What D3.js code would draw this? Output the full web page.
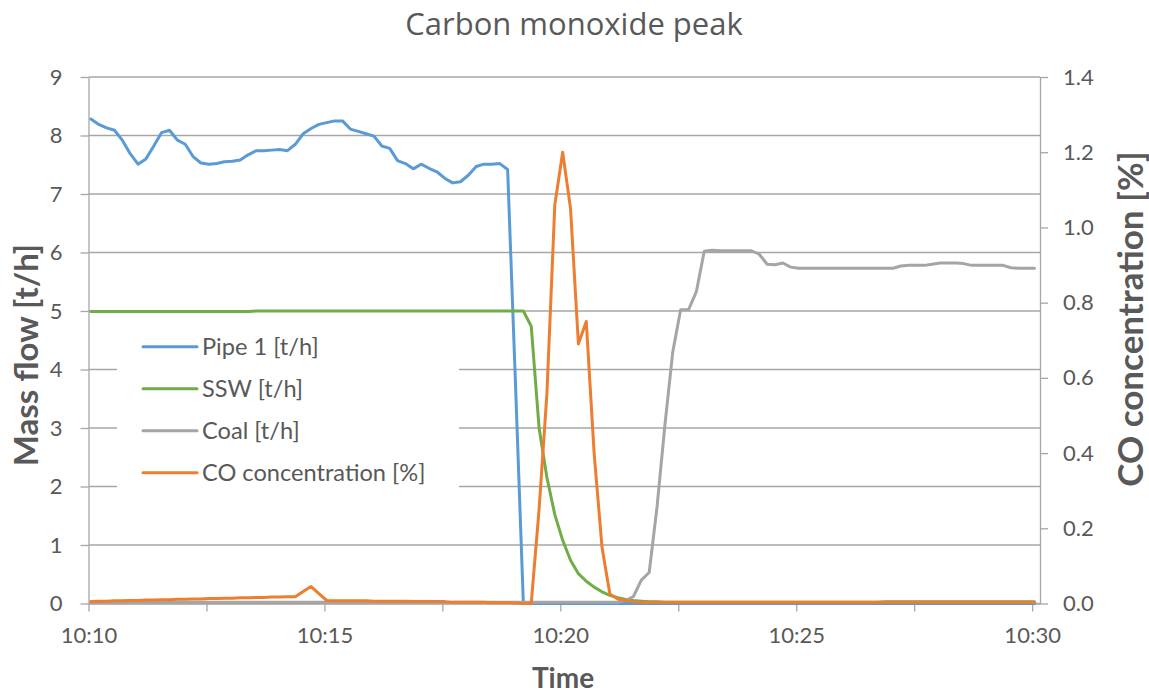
<!DOCTYPE html>
<html><head><meta charset="utf-8">
<script src="https://cdn.jsdelivr.net/npm/d3@7/dist/d3.min.js"></script>
<style>
body{margin:0;background:#fff}
svg{display:block;font-family:Lato,"Open Sans",sans-serif}
</style>
</head><body>
<svg id="chart" width="1149" height="695"></svg>
<script>
// ---------- data ----------
const startTime = "2000-01-01T10:10:03";
const stepSeconds = 10;
const seriesNames = ["Pipe 1 [t/h]", "SSW [t/h]", "Coal [t/h]", "CO concentration [%]"];
const pipe1 = [
 8.28,8.19,8.13,8.09,7.92,7.69,7.51,7.60,7.82,8.05,
 8.09,7.92,7.85,7.64,7.53,7.51,7.52,7.55,7.56,7.58,
 7.67,7.74,7.74,7.75,7.76,7.74,7.85,8.03,8.12,8.19,
 8.22,8.25,8.25,8.11,8.07,8.03,7.99,7.82,7.78,7.57,
 7.52,7.43,7.51,7.44,7.38,7.27,7.19,7.21,7.32,7.47,
 7.51,7.51,7.52,7.42,3.75,0,0,0,0,0,
 0,0,0,0,0,0,0,0,0,0,
 0,0,0,0,0,0,0,0,0,0,
 0,0,0,0,0,0,0,0,0,0,
 0,0,0,0,0,0,0,0,0,0,
 0,0,0,0,0,0,0,0,0,0,
 0,0,0,0,0,0,0,0,0,0,
 0];
const ssw = [
 4.99,4.99,4.99,4.99,4.99,4.99,4.99,4.99,4.99,4.99,
 4.99,4.99,4.99,4.99,4.99,4.99,4.99,4.99,4.99,4.99,
 4.99,5.00,5.00,5.00,5.00,5.00,5.00,5.00,5.00,5.00,
 5.00,5.00,5.00,5.00,5.00,5.00,5.00,5.00,5.00,5.00,
 5.00,5.00,5.00,5.00,5.00,5.00,5.00,5.00,5.00,5.00,
 5.00,5.00,5.00,5.00,5.00,5.00,4.74,3.00,2.15,1.52,
 1.08,0.74,0.51,0.38,0.28,0.20,0.14,0.10,0.07,0.05,
 0.04,0.03,0.03,0.02,0.02,0.02,0.02,0.02,0.02,0.02,
 0.02,0.02,0.02,0.02,0.02,0.02,0.02,0.02,0.02,0.02,
 0.02,0.02,0.02,0.02,0.02,0.02,0.02,0.02,0.02,0.02,
 0.02,0.03,0.03,0.03,0.03,0.03,0.03,0.03,0.03,0.03,
 0.03,0.03,0.03,0.03,0.03,0.03,0.03,0.03,0.03,0.03,
 0.03];
const coal = [
 0.02,0.02,0.02,0.02,0.02,0.02,0.02,0.02,0.02,0.02,
 0.02,0.02,0.02,0.02,0.02,0.02,0.02,0.02,0.02,0.02,
 0.02,0.02,0.02,0.02,0.02,0.02,0.02,0.02,0.02,0.02,
 0.02,0.02,0.02,0.02,0.02,0.02,0.02,0.02,0.02,0.02,
 0.02,0.02,0.02,0.02,0.02,0.02,0.02,0.02,0.02,0.02,
 0.02,0.02,0.02,0.02,0.02,0.02,0.02,0.02,0.02,0.02,
 0.02,0.02,0.02,0.02,0.02,0.02,0.02,0.02,0.05,0.12,
 0.40,0.53,1.65,3.05,4.30,5.02,5.02,5.33,6.02,6.04,
 6.03,6.03,6.03,6.03,6.03,5.97,5.80,5.79,5.82,5.75,
 5.73,5.73,5.73,5.73,5.73,5.73,5.73,5.73,5.73,5.73,
 5.73,5.73,5.73,5.77,5.78,5.78,5.78,5.80,5.82,5.82,
 5.82,5.81,5.78,5.78,5.78,5.78,5.78,5.74,5.73,5.73,
 5.73];
const co = [
 0.005,0.006,0.006,0.007,0.007,0.008,0.008,0.009,0.009,0.010,
 0.010,0.011,0.011,0.012,0.012,0.013,0.013,0.014,0.014,0.015,
 0.015,0.016,0.016,0.017,0.017,0.018,0.018,0.032,0.045,0.026,
 0.008,0.007,0.007,0.007,0.007,0.007,0.006,0.006,0.006,0.006,
 0.006,0.005,0.005,0.005,0.005,0.005,0.003,0.003,0.003,0.003,
 0.003,0.002,0.002,0.002,0.001,0,0,0.25,0.56,1.06,
 1.20,1.05,0.69,0.75,0.40,0.15,0.025,0.012,0.008,0.005,
 0.003,0.003,0.003,0.003,0.003,0.003,0.003,0.003,0.003,0.003,
 0.003,0.003,0.003,0.003,0.003,0.003,0.003,0.003,0.003,0.003,
 0.003,0.003,0.003,0.003,0.003,0.003,0.003,0.003,0.003,0.003,
 0.003,0.003,0.003,0.003,0.003,0.003,0.003,0.003,0.003,0.003,
 0.003,0.003,0.003,0.003,0.003,0.003,0.003,0.003,0.003,0.003,
 0.003];
const xTickTimes = ["10:10:00","10:12:30","10:15:00","10:17:30","10:20:00","10:22:30","10:25:00","10:27:30","10:30:00"];
const xTickLabels = ["10:10","","10:15","","10:20","","10:25","","10:30"];
const yLeftTicks = [0,1,2,3,4,5,6,7,8,9];
const yRightTicks = [0,0.2,0.4,0.6,0.8,1.0,1.2,1.4];

// ---------- layout ----------
const W = 1149, H = 695;
const L = 88.5, R = 1040, T = 77, B = 603.5;
const txt = "#595959", grid = "#a6a6a6";
const colors = ["#5B9BD5", "#70AD47", "#A5A5A5", "#ED7D31"];

const svg = d3.select("#chart");
const parseT = d3.timeParse("%H:%M:%S");
const t0 = new Date(startTime);
const times = pipe1.map((_, i) => new Date(t0.getTime() + i * stepSeconds * 1000));
const dayOf = s => { const p = parseT(s); return new Date(2000,0,1,p.getHours(),p.getMinutes(),p.getSeconds()); };

const x = d3.scaleTime().domain([dayOf("10:10:00"), dayOf("10:30:10")]).range([L, R]);
const yL = d3.scaleLinear().domain([0, 9]).range([B, T]);
const yR = d3.scaleLinear().domain([0, 1.4]).range([B, T]);

// gridlines
svg.append("g").selectAll("line").data(yLeftTicks).join("line")
  .attr("x1", L).attr("x2", R).attr("y1", d => yL(d)).attr("y2", d => yL(d))
  .attr("stroke", grid).attr("stroke-width", 1.3);

// axes
const xAxis = svg.append("g").attr("transform", `translate(0,${B})`)
  .call(d3.axisBottom(x).tickValues(xTickTimes.map(dayOf))
    .tickFormat((d, i) => xTickLabels[i]).tickSize(8).tickSizeOuter(0).tickPadding(16));
const yAxisL = svg.append("g").attr("transform", `translate(${L},0)`)
  .call(d3.axisLeft(yL).tickValues(yLeftTicks).tickFormat(d3.format("d")).tickSize(8).tickSizeOuter(0).tickPadding(18));
const yAxisR = svg.append("g").attr("transform", `translate(${R},0)`)
  .call(d3.axisRight(yR).tickValues(yRightTicks).tickFormat(d3.format(".1f")).tickSize(8).tickSizeOuter(0).tickPadding(15));
[xAxis, yAxisL, yAxisR].forEach(g => {
  g.select(".domain").attr("stroke", grid).attr("stroke-width", 1.3);
  g.selectAll(".tick line").attr("stroke", grid).attr("stroke-width", 1.3);
  g.selectAll(".tick text").attr("fill", txt).style("font-size", "22px").style("font-family", "Lato");
});

// lines
const lineL = d3.line().x((d, i) => x(times[i])).y(d => yL(d));
const lineR = d3.line().x((d, i) => x(times[i])).y(d => yR(d));
const seriesData = [pipe1, ssw, coal, co];
seriesData.forEach((s, k) => {
  svg.append("path").datum(s)
    .attr("d", k === 3 ? lineR : lineL)
    .attr("fill", "none").attr("stroke", colors[k]).attr("stroke-width", 3)
    .attr("stroke-linejoin", "round").attr("stroke-linecap", "round");
});

// legend
const lg = svg.append("g");
lg.append("rect").attr("x", 117).attr("y", 319).attr("width", 342).attr("height", 177).attr("fill", "#fff");
const legY = d3.scalePoint().domain(seriesNames).range([346.7, 472.7]);
seriesNames.forEach((n, k) => {
  lg.append("line").attr("x1", 143).attr("x2", 197).attr("y1", legY(n)).attr("y2", legY(n))
    .attr("stroke", colors[k]).attr("stroke-width", 3).attr("stroke-linecap", "round");
  lg.append("text").attr("x", 202).attr("y", legY(n) + 8).text(n)
    .attr("fill", txt).style("font-size", "23.6px");
});

// titles
svg.append("text").attr("x", 574).attr("y", 34.5).attr("text-anchor", "middle")
  .attr("fill", txt).style("font-size", "31px").style("font-family", "'Open Sans'").text("Carbon monoxide peak");
svg.append("text").attr("transform", "translate(38,355) rotate(-90)").attr("text-anchor", "middle")
  .attr("fill", txt).style("font-size", "33px").style("font-weight", "bold").text("Mass flow [t/h]");
svg.append("text").attr("transform", "translate(1143,319) rotate(-90)").attr("text-anchor", "middle")
  .attr("fill", txt).style("font-size", "35px").style("font-weight", "bold").text("CO concentration [%]");
svg.append("text").attr("x", 563).attr("y", 688).attr("text-anchor", "middle")
  .attr("fill", txt).style("font-size", "28px").style("font-weight", "bold").text("Time");
</script>
</body></html>
